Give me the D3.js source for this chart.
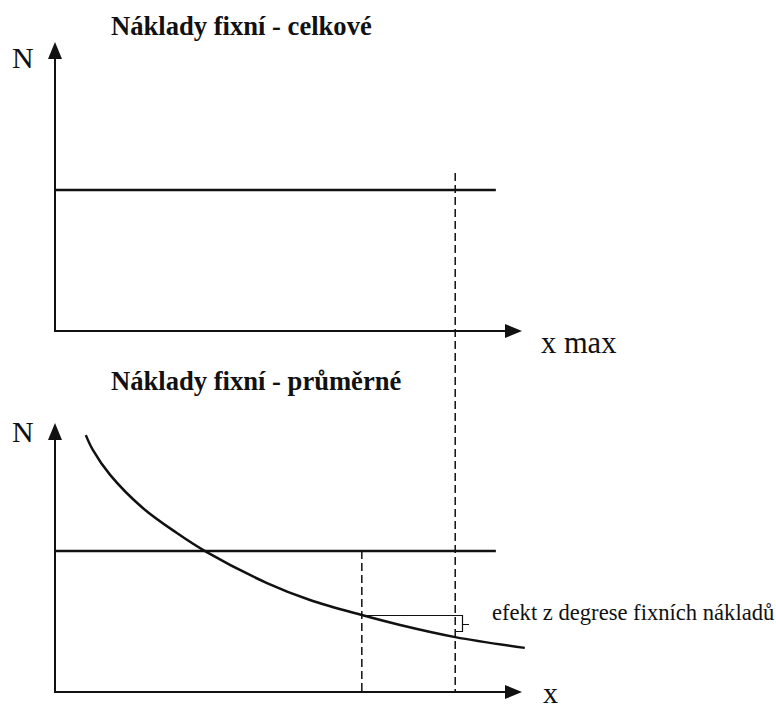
<!DOCTYPE html>
<html>
<head>
<meta charset="utf-8">
<script src="https://cdn.jsdelivr.net/npm/d3@7"></script>
<style>
  body { margin: 0; background: #fff; }
  svg text { font-family: "Times New Roman", Times, "Liberation Serif", Tinos, "DejaVu Serif", serif; }
</style>
</head>
<body>
<div id="vis"></div>
<script>
// titles and labels
var titles = ['Náklady fixní - celkové', 'Náklady fixní - průměrné'];
var axisLabelY = 'N';
var axisLabelsX = ['x max', 'x'];
var noteText = 'efekt z degrese fixních nákladů';

// fixed cost level (both panels), end of the level line
var fixedTotal = 4.88;
var fixedAvgRef = 5.24;
var levelEnd = 9.44;

// marked volumes
var xOne = 6.57;
var xMax = 8.57;
var dashTop = 5.47; // where the x max guide starts in the top panel

// average fixed cost curve
var curveX = [0.66, 0.81, 1.18, 1.88, 2.61, 3.25, 4.54, 5.46, 6.57, 7.39, 8.57, 10.06];
var curveY = [9.55, 9.00, 8.07, 6.84, 5.91, 5.20, 4.05, 3.42, 2.86, 2.49, 2.04, 1.64];
var curve = curveX.map(function(d, i){ return {x: d, y: curveY[i]}; });

var width  = 776;
var height = 711;

var svg = d3.select('#vis')
  .append('svg')
  .attr('width', width)
  .attr('height', height);

var xScale = d3.scaleLinear().domain([0, 10]).range([55, 522]);
var yTop   = d3.scaleLinear().domain([0, 10]).range([331, 42]);
var yBot   = d3.scaleLinear().domain([0, 10]).range([692, 423]);

function arrowAxes(y){
  var x0 = xScale(0), x1 = xScale(10);
  var y0 = y(0), y1 = y(10);
  svg.append('line')
    .attr('x1', x0).attr('y1', y0)
    .attr('x2', x0).attr('y2', y1 + 12)
    .attr('stroke', '#111').attr('stroke-width', 2);
  svg.append('line')
    .attr('x1', x0 - 1).attr('y1', y0)
    .attr('x2', x1 - 12).attr('y2', y0)
    .attr('stroke', '#111').attr('stroke-width', 2);
  // arrow heads
  svg.append('path')
    .attr('d', 'M' + x0 + ',' + y1 + 'L' + (x0 - 7) + ',' + (y1 + 17) + 'L' + (x0 + 7) + ',' + (y1 + 17) + 'Z')
    .attr('fill', '#111');
  svg.append('path')
    .attr('d', 'M' + x1 + ',' + y0 + 'L' + (x1 - 17) + ',' + (y0 - 7) + 'L' + (x1 - 17) + ',' + (y0 + 7) + 'Z')
    .attr('fill', '#111');
}

arrowAxes(yTop);
arrowAxes(yBot);

// top panel: total fixed costs
svg.append('line')
  .attr('x1', xScale(0)).attr('y1', yTop(fixedTotal))
  .attr('x2', xScale(levelEnd)).attr('y2', yTop(fixedTotal))
  .attr('stroke', '#111').attr('stroke-width', 2.5);

// bottom panel: reference level
svg.append('line')
  .attr('x1', xScale(0)).attr('y1', yBot(fixedAvgRef))
  .attr('x2', xScale(levelEnd)).attr('y2', yBot(fixedAvgRef))
  .attr('stroke', '#111').attr('stroke-width', 2.5);

// dashed guides
svg.append('line')
  .attr('x1', xScale(xMax)).attr('y1', yTop(dashTop))
  .attr('x2', xScale(xMax)).attr('y2', yBot(0))
  .attr('stroke', '#111').attr('stroke-width', 1.5)
  .attr('stroke-dasharray', '8,4');

svg.append('line')
  .attr('x1', xScale(xOne)).attr('y1', yBot(fixedAvgRef))
  .attr('x2', xScale(xOne)).attr('y2', yBot(0))
  .attr('stroke', '#111').attr('stroke-width', 1.5)
  .attr('stroke-dasharray', '8,4');

// average fixed cost curve
var line = d3.line()
  .x(function(d){ return xScale(d.x); })
  .y(function(d){ return yBot(d.y); })
  .curve(d3.curveCatmullRom);

svg.append('path')
  .attr('d', line(curve))
  .attr('fill', 'none')
  .attr('stroke', '#111')
  .attr('stroke-width', 2.5);

// degression effect: level at xOne carried over to xMax, with a bracket
var yOne = Math.round(yBot(curveY[curveX.indexOf(xOne)])) + 0.5;
var yMaxC = yBot(curveY[curveX.indexOf(xMax)]);
svg.append('line')
  .attr('x1', xScale(xOne)).attr('y1', yOne)
  .attr('x2', xScale(xMax)).attr('y2', yOne)
  .attr('stroke', '#111').attr('stroke-width', 1.2);

var bx = Math.round(xScale(xMax));
var bBot = Math.round(yMaxC - 6) + 0.5;
var bMid = Math.round((yOne + bBot) / 2) + 0.5;
svg.append('path')
  .attr('d', 'M' + bx + ',' + yOne + 'H' + (bx + 7.5) + 'V' + bBot + 'H' + bx +
             'M' + (bx + 7.5) + ',' + bMid + 'H' + (bx + 14))
  .attr('fill', 'none')
  .attr('stroke', '#111')
  .attr('stroke-width', 1.2);

// texts
function label(x, y, size, txt, bold){
  svg.append('text')
    .attr('x', x).attr('y', y)
    .style('font-size', size + 'px')
    .style('font-weight', bold ? 'bold' : 'normal')
    .attr('fill', '#111')
    .text(txt);
}

label(111, 35, 26.6, titles[0], true);
label(111, 390, 26.6, titles[1], true);
label(12, 68, 30, axisLabelY);
label(12, 442, 30, axisLabelY);
label(541, 353, 30.5, axisLabelsX[0]);
label(543, 703, 30, axisLabelsX[1]);
label(492, 620, 22.6, noteText);
</script>
</body>
</html>
